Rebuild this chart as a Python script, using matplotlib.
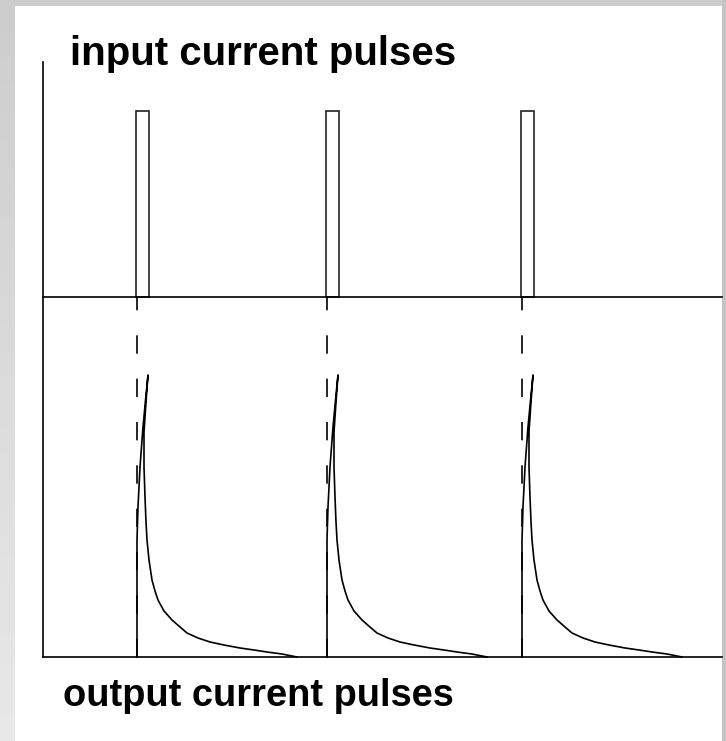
import numpy as np
import matplotlib
matplotlib.use('Agg')
import matplotlib.pyplot as plt
from matplotlib.patches import Rectangle

# ---- data (time axis in arbitrary units, amplitudes in arbitrary units) ----
pulse_starts = [136, 326, 521]
pulse_width = 13
input_amplitude = 186
output_rise_t = [1, 1, 2, 4, 7, 10, 12]
output_rise_y = [0, 117, 150, 190, 230, 262, 282]
output_decay_t = [12, 10, 8, 8, 9, 10, 11, 13, 16, 19, 22, 28, 36, 44, 51, 62, 74, 88, 104, 118, 131, 146, 161]
output_decay_y = [282, 255, 225, 190, 160, 135, 117, 97, 77, 66, 57, 46, 37, 30, 24, 19, 15, 12, 9, 7, 5, 3, 0]
top_label = "input current pulses"
bottom_label = "output current pulses"

W, H = 726, 741
fig = plt.figure(figsize=(W / 100, H / 100), dpi=100)
fig.patch.set_facecolor('#d2d2d2')

# background gradient frame
bg = fig.add_axes([0, 0, 1, 1], zorder=-10)
grad = np.linspace(0.80, 0.91, 256).reshape(-1, 1)
bg.imshow(np.repeat(grad, 4, axis=1), cmap='gray', vmin=0, vmax=1,
          aspect='auto', extent=[0, 1, 0, 1], origin='upper')
bg.add_patch(Rectangle((15 / W, 0), (722 - 15) / W, (H - 6) / H,
                       facecolor='white', edgecolor='none'))
bg.add_patch(Rectangle((722 / W, 0), 4 / W, 1, facecolor='#c4c4c4', edgecolor='none'))
bg.set_xlim(0, 1); bg.set_ylim(0, 1)
bg.axis('off')

x0, x1 = 43, 722
lw = 1.2

def frac_y(py):
    return (H - py) / H

# top (input) axes
ax1 = fig.add_axes([x0 / W, frac_y(297), (x1 - x0) / W, frac_y(62) - frac_y(297)])
ax1.set_xlim(x0, x1)
ax1.set_ylim(0, 297 - 62)
# bottom (output) axes
ax2 = fig.add_axes([x0 / W, frac_y(657), (x1 - x0) / W, frac_y(297) - frac_y(657)])
ax2.set_xlim(x0, x1)
ax2.set_ylim(0, 657 - 297)

for ax in (ax1, ax2):
    ax.patch.set_alpha(0)
    ax.set_xticks([]); ax.set_yticks([])
    for s in ('top', 'right'):
        ax.spines[s].set_visible(False)
    for s in ('left', 'bottom'):
        ax.spines[s].set_linewidth(lw)
        ax.spines[s].set_color('black')

for t0 in pulse_starts:
    ax1.add_patch(Rectangle((t0, 0), pulse_width, input_amplitude,
                            facecolor='white', edgecolor='#222222', linewidth=lw,
                            clip_on=False))
    # dashed guide
    ax2.plot([t0 + 1, t0 + 1], [0, 360], color='black', linewidth=lw,
             dashes=(11, 15), dash_capstyle='butt', clip_on=False)
    t = np.array(output_rise_t + output_decay_t) + t0
    y = np.array(output_rise_y + output_decay_y)
    ax2.plot(t, y, color='black', linewidth=lw, clip_on=False,
             solid_joinstyle='round')

fig.text(70 / W, frac_y(65), top_label, fontsize=29, fontweight='bold',
         family=['Liberation Sans', 'DejaVu Sans'], va='baseline', ha='left')
fig.text(63 / W, frac_y(706), bottom_label, fontsize=27.4, fontweight='bold',
         family=['Liberation Sans', 'DejaVu Sans'], va='baseline', ha='left')

fig.savefig('out.png', dpi=100)
